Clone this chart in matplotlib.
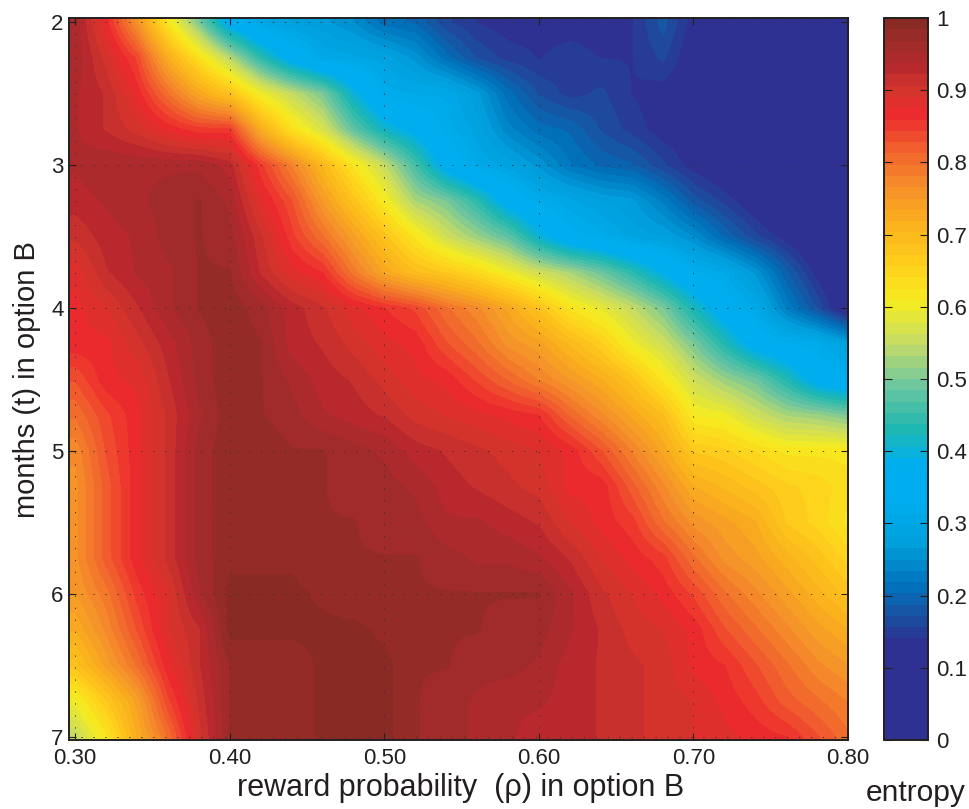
import numpy as np
import matplotlib
matplotlib.use('Agg')
import matplotlib.pyplot as plt
from matplotlib.colors import LinearSegmentedColormap

plt.rcParams['font.family'] = ['Liberation Sans', 'DejaVu Sans']

rho = [0.30, 0.32, 0.34, 0.36, 0.38, 0.40, 0.42, 0.44, 0.46, 0.48, 0.50, 0.52, 0.54,
       0.56, 0.58, 0.60, 0.62, 0.64, 0.66, 0.68, 0.70, 0.72, 0.74, 0.76, 0.78, 0.80]
months = [2, 2.25, 2.5, 2.75, 3, 3.25, 3.5, 3.75, 4, 4.25, 4.5, 4.75, 5, 5.25, 5.5, 5.75,
          6, 6.25, 6.5, 6.75, 7]

row_200 = [.95,.87,.76,.62,.50,.36,.30,.28,.27,.25,.21,.20,.16,.14,.13,.13,.13,.13,.14,.18,.13,.10,.08,.08,.08,.08]
row_225 = [.95,.90,.84,.72,.63,.54,.44,.36,.31,.30,.29,.26,.21,.17,.15,.14,.15,.14,.14,.16,.12,.10,.08,.08,.08,.08]
row_250 = [.94,.92,.87,.80,.73,.68,.60,.55,.50,.40,.32,.31,.31,.27,.21,.17,.15,.16,.14,.13,.12,.09,.08,.08,.08,.08]
row_275 = [.94,.92,.90,.87,.85,.85,.72,.63,.57,.48,.41,.37,.32,.29,.24,.21,.20,.17,.15,.13,.12,.10,.08,.08,.08,.08]
row_300 = [.94,.95,.95,.95,.95,.93,.85,.78,.70,.62,.55,.46,.36,.31,.29,.26,.22,.20,.19,.16,.13,.11,.09,.08,.08,.08]
row_325 = [.93,.94,.95,.96,.97,.95,.88,.83,.75,.68,.61,.53,.50,.44,.36,.32,.30,.28,.27,.23,.18,.15,.12,.09,.08,.08]
row_350 = [.91,.93,.94,.96,.97,.96,.91,.85,.80,.74,.68,.62,.56,.52,.48,.40,.34,.32,.29,.28,.25,.20,.16,.13,.10,.08]
row_375 = [.88,.92,.94,.95,.97,.97,.92,.88,.86,.79,.73,.69,.67,.64,.60,.56,.53,.49,.44,.38,.33,.31,.26,.19,.13,.08]
row_400 = [.87,.89,.92,.95,.97,.98,.96,.93,.91,.88,.86,.84,.80,.77,.73,.68,.62,.59,.55,.50,.42,.35,.31,.23,.17,.10]
row_425 = [.87,.87,.90,.93,.96,.98,.97,.93,.92,.90,.88,.87,.83,.80,.76,.74,.70,.66,.60,.56,.50,.43,.36,.33,.32,.28]
row_450 = [.83,.87,.88,.92,.96,.98,.97,.95,.93,.92,.90,.88,.87,.84,.81,.78,.75,.72,.68,.62,.56,.52,.49,.43,.36,.33]
row_475 = [.80,.84,.87,.91,.95,.98,.97,.96,.94,.93,.92,.90,.89,.88,.87,.86,.81,.77,.73,.69,.61,.60,.56,.53,.52,.50]
row_500 = [.77,.83,.87,.91,.96,.98,.98,.97,.97,.96,.95,.93,.92,.91,.90,.89,.87,.83,.78,.73,.67,.66,.64,.62,.62,.62]
row_525 = [.76,.82,.87,.91,.96,.98,.98,.97,.97,.96,.96,.95,.93,.92,.91,.90,.87,.87,.82,.77,.72,.70,.68,.66,.65,.63]
row_550 = [.76,.82,.87,.91,.96,.98,.98,.97,.97,.97,.96,.96,.94,.94,.93,.92,.89,.87,.85,.80,.76,.74,.72,.67,.65,.62]
row_575 = [.76,.82,.87,.91,.96,.98,.98,.98,.97,.97,.97,.97,.96,.95,.95,.94,.92,.89,.87,.85,.80,.76,.74,.71,.68,.65]
row_600 = [.75,.79,.85,.89,.95,.99,.99,.99,.98,.97,.97,.97,.97,.97,.97,.97,.94,.91,.89,.87,.84,.80,.77,.74,.71,.68]
row_625 = [.72,.77,.83,.89,.92,.99,.99,.99,.99,.99,.98,.97,.97,.97,.96,.96,.94,.92,.90,.89,.87,.83,.80,.77,.74,.72]
row_650 = [.68,.74,.80,.87,.92,.97,.97,.97,.99,.99,.99,.97,.97,.96,.96,.95,.93,.92,.91,.90,.87,.86,.83,.80,.77,.75]
row_675 = [.60,.67,.74,.84,.91,.97,.97,.97,.99,.99,.99,.97,.96,.95,.94,.94,.93,.92,.91,.90,.89,.87,.85,.82,.80,.78]
row_700 = [.55,.62,.72,.80,.90,.97,.97,.97,.99,.99,.99,.97,.96,.95,.94,.93,.93,.92,.91,.90,.89,.88,.87,.86,.83,.80]

x_ticks = [0.30, 0.40, 0.50, 0.60, 0.70, 0.80]
x_labels = ['0.30', '0.40', '0.50', '0.60', '0.70', '0.80']
y_ticks = [2, 3, 4, 5, 6, 7]
cb_ticks = [0, 0.1, 0.2, 0.3, 0.4, 0.5, 0.6, 0.7, 0.8, 0.9, 1]
cb_labels = ['0', '0.1', '0.2', '0.3', '0.4', '0.5', '0.6', '0.7', '0.8', '0.9', '1']

cmap_stops = [(0.00, '#2e3192'), (0.13, '#2e3192'), (0.165, '#1b4f9f'), (0.21, '#0072bc'),
              (0.27, '#00a0dc'), (0.33, '#00aeef'), (0.38, '#00aeef'), (0.43, '#1fb8b0'),
              (0.49, '#6cc6a0'), (0.55, '#c6dc66'), (0.61, '#f7ec1f'), (0.66, '#ffd01c'),
              (0.72, '#fbb01e'), (0.77, '#f58f2a'), (0.82, '#f1632d'), (0.87, '#ed2a2e'),
              (0.91, '#d1352c'), (0.94, '#b5272e'), (0.97, '#a02c2a'), (1.00, '#8a2a25')]

W, H = 969, 809
INK = '#231f20'


def main():
    entropy = np.array([row_200, row_225, row_250, row_275, row_300, row_325, row_350,
                        row_375, row_400, row_425, row_450, row_475, row_500, row_525,
                        row_550, row_575, row_600, row_625, row_650, row_675, row_700])
    cmap = LinearSegmentedColormap.from_list('entropy', cmap_stops, N=64)

    fig = plt.figure(figsize=(W / 100, H / 100), dpi=100)
    ax = fig.add_axes([69 / W, 1 - 740 / H, (848 - 69) / W, (740 - 18) / H])
    cax = fig.add_axes([884 / W, 1 - 740 / H, (928 - 884) / W, (740 - 18) / H])

    dx = (rho[1] - rho[0]) / 2
    dy = (months[1] - months[0]) / 2
    im = ax.imshow(entropy, cmap=cmap, vmin=0, vmax=1, aspect='auto', interpolation='bilinear',
                   extent=[rho[0] - dx, rho[-1] + dx, months[-1] + dy, months[0] - dy])
    ax.set_xlim(0.296, 0.80)
    ax.set_ylim(7.02, 1.972)

    ax.set_xticks(x_ticks)
    ax.set_xticklabels(x_labels)
    ax.set_yticks(y_ticks)
    ax.tick_params(direction='in', top=True, right=True, length=5, width=0.8, color=INK,
                   labelsize=16, labelcolor=INK, pad=6)
    ax.tick_params(axis='y', pad=4)
    ax.grid(True, color='#333333', linewidth=0.7, linestyle=(0, (1.3, 11)))
    ax.set_axisbelow(False)
    for s in ax.spines.values():
        s.set_linewidth(1.4)
        s.set_color(INK)

    fig.text(461 / W, 1 - 788 / H, 'reward probability  (\u03c1) in option B', fontsize=22,
             color=INK, ha='center', va='center')
    fig.text(27 / W, 1 - 380 / H, 'months (t) in option B', fontsize=21, color=INK,
             rotation=90, ha='center', va='center')
    fig.text(916 / W, 1 - 793 / H, 'entropy', fontsize=21.5, color=INK, ha='center', va='center')

    cb = fig.colorbar(im, cax=cax, ticks=cb_ticks)
    cb.ax.set_yticklabels(cb_labels)
    cb.ax.tick_params(direction='in', left=True, right=True, length=6, width=0.8, color=INK,
                      labelsize=16, labelcolor=INK, pad=6)
    cb.outline.set_linewidth(1.4)
    cb.outline.set_edgecolor(INK)

    fig.savefig('out.png', dpi=100)


main()
